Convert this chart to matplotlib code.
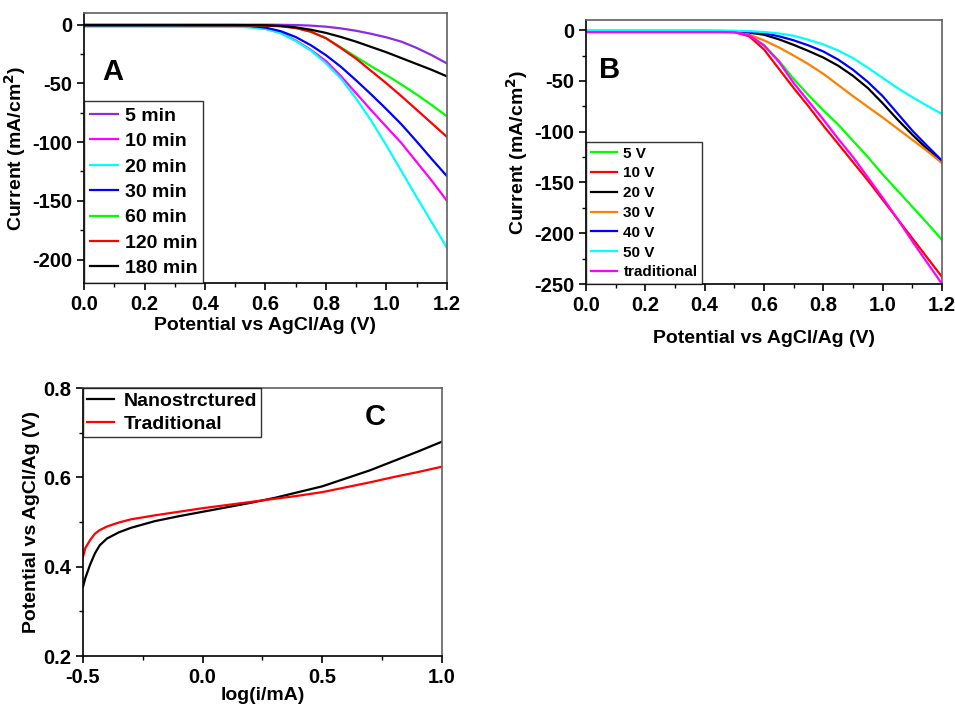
import matplotlib
matplotlib.use("Agg")
import matplotlib.pyplot as plt
from matplotlib.ticker import MultipleLocator

plt.rcParams['font.family'] = ['Liberation Sans', 'DejaVu Sans']
plt.rcParams['font.weight'] = 'bold'
plt.rcParams['axes.unicode_minus'] = False

# ---------------- Panel A data ----------------
xa = [0.0, 0.1, 0.2, 0.3, 0.4, 0.5, 0.55, 0.6, 0.65, 0.7, 0.75, 0.8, 0.85, 0.9,
      0.95, 1.0, 1.05, 1.1, 1.15, 1.2]
a_5min   = [0, 0, 0, 0, 0, 0, 0, 0, -0.1, -0.3, -0.8, -1.7, -3.2, -5.2, -7.8, -10.8, -14.5, -19.8, -26, -33]
a_10min  = [-1.2, -1.2, -1.2, -1.3, -1.4, -1.6, -2, -3.5, -7, -13.5, -21.5, -31, -44, -58.5, -73, -87, -101, -117, -133, -150]
a_20min  = [-1.6, -1.6, -1.6, -1.7, -1.8, -1.9, -2.2, -3.6, -7.2, -14, -22, -33, -46, -63, -82, -103, -125, -147, -168.5, -190]
a_30min  = [-0.7, -0.7, -0.7, -0.7, -0.8, -0.9, -1.2, -2.5, -5.5, -10.5, -17.5, -26, -36, -47.5, -59.5, -72, -85, -99.5, -114.5, -129]
a_60min  = [-0.4, -0.4, -0.4, -0.4, -0.5, -0.5, -0.6, -0.8, -1.3, -2.8, -6, -11.5, -19.5, -27.5, -35.5, -43, -51, -59.5, -68.5, -78]
a_120min = [-0.4, -0.4, -0.4, -0.4, -0.5, -0.5, -0.6, -0.8, -1.3, -2.8, -6, -11.5, -20, -29, -39.5, -50, -61, -72.5, -84, -95.6]
a_180min = [-0.3, -0.3, -0.3, -0.3, -0.3, -0.3, -0.4, -0.5, -1, -2.3, -4.3, -7, -10.5, -14.5, -19, -23.5, -28.5, -33.5, -38.5, -44]
a_labels = ['5 min', '10 min', '20 min', '30 min', '60 min', '120 min', '180 min']
a_colors = ['#8B2BE2', '#FF00FF', '#00FFFF', '#0000FF', '#00FF00', '#FF0000', '#000000']

# ---------------- Panel B data ----------------
xb = [0.0, 0.1, 0.2, 0.3, 0.4, 0.45, 0.5, 0.55, 0.6, 0.65, 0.7, 0.75, 0.8, 0.85, 0.9,
      0.95, 1.0, 1.05, 1.1, 1.15, 1.2]
b_5V   = [-1, -1, -1, -1, -1.2, -1.3, -1.5, -5, -15, -30, -48, -64, -79, -93, -109, -125, -142, -158, -174, -190, -206.5]
b_10V  = [-1.5, -1.5, -1.5, -1.5, -1.5, -1.5, -2, -6, -19, -38, -57, -75, -94, -112, -130, -148, -167, -186, -205, -224, -243]
b_20V  = [-0.8, -0.8, -0.8, -0.8, -0.8, -0.9, -1, -2.5, -4.5, -9, -14.5, -20.5, -27, -35, -45, -57, -72, -88, -103, -117, -129.5]
b_30V  = [-1, -1, -1, -1, -1, -1.2, -1.5, -4.5, -10, -17, -25, -33.5, -43, -54, -65, -75.5, -86, -97, -108, -119, -131]
b_40V  = [-0.8, -0.8, -0.8, -0.8, -0.8, -0.8, -1, -1.5, -3, -6, -10, -15, -21, -29, -39, -51, -65, -82, -99, -114, -128.5]
b_50V  = [-0.5, -0.5, -0.5, -0.5, -0.5, -0.5, -0.5, -1, -1.8, -3.2, -5.5, -9.5, -14, -20, -27.5, -37, -47, -57, -66, -74.5, -82.5]
b_trad = [-2, -2, -2, -2, -2, -2, -2.2, -5, -15, -31, -52, -70, -88, -107, -125, -145, -165, -186, -208, -229, -250]
b_labels = ['5 V', '10 V', '20 V', '30 V', '40 V', '50 V', 'traditional']
b_colors = ['#00FF00', '#FF0000', '#000000', '#FF8000', '#0000FF', '#00FFFF', '#FF00FF']

# ---------------- Panel C data ----------------
xc = [-0.5, -0.49, -0.47, -0.45, -0.43, -0.4, -0.35, -0.3, -0.2, -0.1, 0.0, 0.1, 0.2,
      0.3, 0.4, 0.5, 0.6, 0.7, 0.8, 0.9, 1.0]
c_nano = [0.355, 0.375, 0.405, 0.43, 0.448, 0.463, 0.477, 0.487, 0.502, 0.513, 0.523, 0.533,
          0.543, 0.554, 0.567, 0.58, 0.598, 0.616, 0.637, 0.658, 0.68]
c_trad = [0.422, 0.442, 0.46, 0.474, 0.482, 0.49, 0.499, 0.506, 0.515, 0.523, 0.531, 0.538,
          0.545, 0.552, 0.559, 0.567, 0.578, 0.589, 0.601, 0.612, 0.624]
c_labels = ['Nanostrctured', 'Traditional']
c_colors = ['#000000', '#FF0000']

FS = 14
TFS = 14.5
fig = plt.figure(figsize=(9.55, 7.07), dpi=100)


def style(ax):
    for s in ['left', 'bottom']:
        ax.spines[s].set_color('black')
        ax.spines[s].set_linewidth(1.2)
    for s in ['top', 'right']:
        ax.spines[s].set_color('#606060')
        ax.spines[s].set_linewidth(1.2)
    ax.tick_params(which='major', direction='out', length=5, width=1.2, labelsize=TFS)
    ax.tick_params(which='minor', direction='out', length=3, width=1.0)
    for lab in ax.get_xticklabels() + ax.get_yticklabels():
        lab.set_fontweight('bold')


def style_legend(leg):
    leg.get_frame().set_edgecolor('black')
    leg.get_frame().set_linewidth(1.0)
    for t in leg.get_texts():
        t.set_fontweight('bold')


# Panel A
axA = fig.add_axes([0.088, 0.5997, 0.380, 0.382])
for ys, lab, col in zip([a_5min, a_10min, a_20min, a_30min, a_60min, a_120min, a_180min], a_labels, a_colors):
    axA.plot(xa, ys, color=col, lw=1.6, label=lab)
axA.set_xlim(0, 1.2)
axA.set_ylim(-220, 10)
axA.set_xticks([0, 0.2, 0.4, 0.6, 0.8, 1.0, 1.2])
axA.set_xticklabels(['0.0', '0.2', '0.4', '0.6', '0.8', '1.0', '1.2'])
axA.xaxis.set_minor_locator(MultipleLocator(0.1))
axA.yaxis.set_major_locator(MultipleLocator(50))
axA.yaxis.set_minor_locator(MultipleLocator(25))
style(axA)
axA.set_xlabel('Potential vs AgCl/Ag (V)', fontsize=FS, fontweight='bold', labelpad=2)
axA.set_ylabel('Current (mA/cm$^\\mathbf{2}$)', fontsize=FS, fontweight='bold', labelpad=3)
axA.text(0.08, 0.78, 'A', transform=axA.transAxes, fontsize=21, fontweight='bold', ha='center', va='center')
legA = axA.legend(loc='lower left', fontsize=FS, frameon=True, fancybox=False, borderaxespad=0,
                  handlelength=1.45, handletextpad=0.35, labelspacing=0.40, borderpad=0.3)
style_legend(legA)

# Panel B
axB = fig.add_axes([0.6136, 0.5983, 0.3728, 0.3734])
for ys, lab, col in zip([b_5V, b_10V, b_20V, b_30V, b_40V, b_50V, b_trad], b_labels, b_colors):
    axB.plot(xb, ys, color=col, lw=1.6, label=lab)
axB.set_xlim(0, 1.2)
axB.set_ylim(-250, 10)
axB.set_xticks([0, 0.2, 0.4, 0.6, 0.8, 1.0, 1.2])
axB.set_xticklabels(['0.0', '0.2', '0.4', '0.6', '0.8', '1.0', '1.2'])
axB.xaxis.set_minor_locator(MultipleLocator(0.1))
axB.yaxis.set_major_locator(MultipleLocator(50))
axB.yaxis.set_minor_locator(MultipleLocator(25))
style(axB)
axB.set_xlabel('Potential vs AgCl/Ag (V)', fontsize=FS, fontweight='bold', labelpad=11)
axB.set_ylabel('Current (mA/cm$^\\mathbf{2}$)', fontsize=FS, fontweight='bold', labelpad=3)
axB.text(0.067, 0.81, 'B', transform=axB.transAxes, fontsize=21, fontweight='bold', ha='center', va='center')
legB = axB.legend(loc='lower left', fontsize=11, frameon=True, fancybox=False, borderaxespad=0,
                  handlelength=1.75, handletextpad=0.4, labelspacing=0.38, borderpad=0.3)
style_legend(legB)

# Panel C
axC = fig.add_axes([0.0869, 0.0721, 0.3759, 0.379])
axC.plot(xc, c_nano, color=c_colors[0], lw=1.6, label=c_labels[0])
axC.plot(xc, c_trad, color=c_colors[1], lw=1.6, label=c_labels[1])
axC.set_xlim(-0.5, 1.0)
axC.set_ylim(0.2, 0.8)
axC.set_xticks([-0.5, 0.0, 0.5, 1.0])
axC.set_xticklabels(['-0.5', '0.0', '0.5', '1.0'])
axC.xaxis.set_minor_locator(MultipleLocator(0.25))
axC.set_yticks([0.2, 0.4, 0.6, 0.8])
axC.set_yticklabels(['0.2', '0.4', '0.6', '0.8'])
axC.yaxis.set_minor_locator(MultipleLocator(0.1))
style(axC)
axC.set_xlabel('log(i/mA)', fontsize=FS, fontweight='bold', labelpad=0)
axC.set_ylabel('Potential vs AgCl/Ag (V)', fontsize=FS, fontweight='bold', labelpad=2)
axC.text(0.813, 0.893, 'C', transform=axC.transAxes, fontsize=21, fontweight='bold', ha='center', va='center')
legC = axC.legend(loc='upper left', fontsize=FS, frameon=True, fancybox=False, borderaxespad=0,
                  handlelength=1.4, handletextpad=0.5, labelspacing=0.3, borderpad=0.2)
style_legend(legC)

fig.savefig('out.png', dpi=100)
